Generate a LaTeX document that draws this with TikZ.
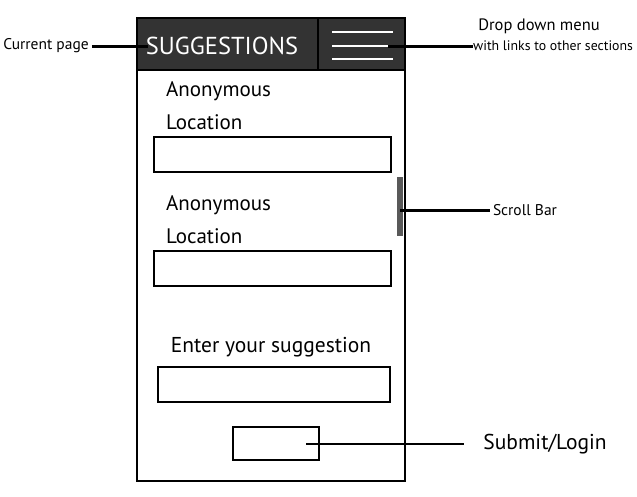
\documentclass[tikz,border=0pt]{standalone}
\usepackage{fontspec}
\setmainfont{PT Sans}
\usetikzlibrary{positioning}
\tikzset{
  field/.style={draw, line width=1.6pt, minimum width=237pt, minimum height=35pt, inner sep=0pt},
  caption/.style={font=\fontsize{21}{24}\selectfont, inner sep=0pt},
  note/.style={font=\fontsize{15.5}{19}\selectfont, inner sep=0pt, align=center},
  conn/.style={line width=3pt}
}
\begin{document}
\begin{tikzpicture}[x=1pt,y=-1pt]
\useasboundingbox (0,0) rectangle (637,496);
% phone frame and header
\draw [line width=1.8pt] (137,18) rectangle (405,481);
\fill [black!80] (137,18) rectangle (405,70);
\draw [line width=1.8pt] (137,18) rectangle (405,70);
\draw [line width=1.2pt] (318,18) -- (318,70);
\node [caption, white, font=\fontsize{24.5}{28}\selectfont] (title) at (222,46) {SUGGESTIONS};
\foreach \y in {32,46,59}
  \draw [white, line width=1.2pt] (332,\y) -- (393,\y);
\coordinate (menu) at (388,46);
% form
\node [caption, anchor=west] (anon1) at (166,91) {Anonymous};
\node [caption, anchor=west] (loc1) at (166,122) {Location};
\node [field] (box1) at (272.5,154.5) {};
\node [caption, anchor=west] (anon2) at (166,205) {Anonymous};
\node [caption, anchor=west] (loc2) at (166,236) {Location};
\node [field] (box2) at (272.5,268.5) {};
\node [caption, font=\fontsize{21.5}{25}\selectfont] (enter) at (271,347) {Enter your suggestion};
\node [field, minimum width=232pt] (box3) at (274,384.5) {};
\node [draw, line width=1.6pt, minimum width=86pt, minimum height=33pt] (submit) at (276,443.5) {};
\fill [black!65] (397,177) rectangle (403,236);
\coordinate (scroll) at (400,210);
% labels
\node [note] (cur) at (46,46) {Current page};
\node [note, font=\fontsize{16.5}{19}\selectfont] (drop1) at (539,26) {Drop down menu};
\node [note, font=\fontsize{13.8}{17}\selectfont, anchor=west] (drop) at (473,46) {with links to other sections};
\node [note] (sbar) at (525,210) {Scroll Bar};
\node [caption, font=\fontsize{21.5}{25}\selectfont] (login) at (545,444) {Submit/Login};
\draw [conn, shorten <=3pt] (cur) -- (148,46);
\draw [conn] (menu) -- (drop);
\draw [conn, shorten >=3pt] (scroll) -- (sbar);
\draw [conn, line width=2pt] (306,444) -- (464,444);
\end{tikzpicture}
\end{document}
